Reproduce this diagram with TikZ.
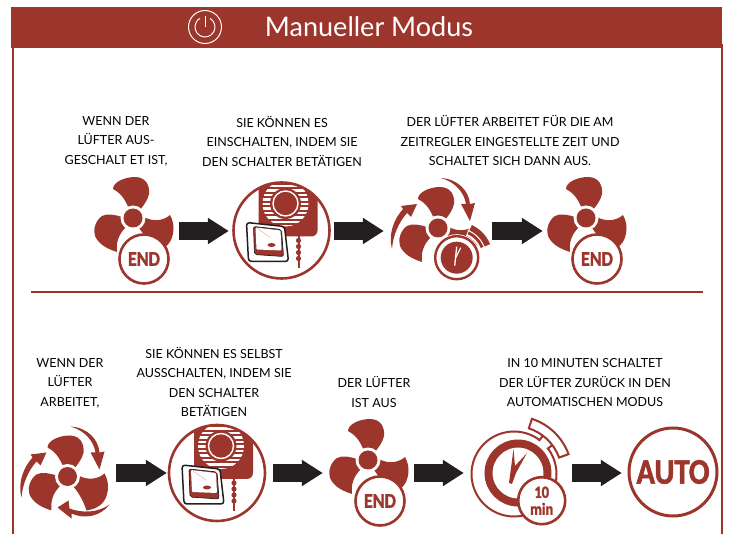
\documentclass[tikz,border=0pt]{standalone}
\usepackage{fontspec}
\setmainfont{Lato}
\newfontfamily\badgefont{Carlito}[FakeStretch=0.85, BoldFeatures={FakeStretch=0.85, FakeBold=1.6}]
\usetikzlibrary{arrows.meta}
\definecolor{rust}{HTML}{9C352B}
\definecolor{flowblack}{HTML}{231F20}
\tikzset{
  slot/.style={inner sep=0pt, minimum height=1pt},
  flow/.style={draw=flowblack, line width=18pt, -{Triangle[length=21pt,width=25pt]}},
  caption/.style={align=center, text=black, font=\fontsize{12.5}{19.5}\selectfont},
  endbadge/.style={circle, draw=rust, line width=2.6pt, fill=white, text=rust, inner sep=0pt,
    minimum size=49pt, font=\badgefont\bfseries\fontsize{21}{21}\selectfont},
  fan/.pic={
    \fill[rust] (-4,-9) .. controls (-8,-20) and (-14,-26) .. (-20,-29) .. controls (-20,-36) and (-8,-41) .. (2,-41) .. controls (13,-41) and (17,-32) .. (16,-24) .. controls (15,-18) and (10,-12) .. (7,-8) -- cycle;
    \fill[rust] (-11,-1) .. controls (-17,-3) and (-26,-5) .. (-31,-2) .. controls (-38,3) and (-40,12) .. (-38,18) .. controls (-34,27) and (-25,31) .. (-16,34) .. controls (-17,25) and (-15,17) .. (-7,9) -- cycle;
    \fill[rust] (11,-1) .. controls (20,4) and (30,3) .. (37,-3) .. controls (42,6) and (41,15) .. (38,22) .. controls (34,30) and (26,33) .. (19,34) .. controls (16,25) and (12,17) .. (5,9) -- cycle;
    \fill[white] (0,0) circle[radius=12.5];
    \fill[rust] (0,0) circle[radius=9.5];
  },
  turnright/.pic={
    \fill[rust] (3,-50) .. controls (20,-49) and (31,-37) .. (32,-24) -- (37,-25) -- (32,-7) -- (23,-24) -- (28,-24) .. controls (26,-36) and (17,-46) .. cycle;
  },
  turnleft/.pic={
    \fill[rust] (-46,21) .. controls (-50,6) and (-44,-9) .. (-35,-19) -- (-37,-22) -- (-21,-24) -- (-27,-11) -- (-31,-15) .. controls (-39,-6) and (-45,7) .. cycle;
  },
  turnbottom/.pic={
    \fill[rust] (42,28) .. controls (33,40) and (17,43) .. (4,37) -- (4,42) -- (-10,31) -- (1,24) -- (2,32) .. controls (15,37) and (31,36) .. cycle;
  },
  switchbox/.pic={
    \fill[white] (0,0) circle[radius=48];
    \begin{scope}
      \clip (0,0) circle[radius=47];
      \fill[rust, rounded corners=6pt] (-23,-60) rectangle (36,6);
      \begin{scope}
        \clip (4,-27) circle[radius=23];
        \foreach \s in {-49,-44.5,...,-3} {\draw[white, line width=2.5pt] (-21,\s) -- (29,\s);}
      \end{scope}
      \fill[rust] (4,-27) circle[radius=15.5];
      \draw[white, line width=1.4pt] (4,-27) circle[radius=12.5];
    \end{scope}
    \draw[rust, line width=2.6pt] (0,0) circle[radius=48];
    \draw[rust, line width=2pt] (17,5) -- (17,38);
    \foreach \s in {10,16,22,28} {\fill[rust] (17,\s) circle[radius=2.6];}
    \filldraw[draw=flowblack, fill=white, line width=1.5pt, rounded corners=3pt] (-35,-8) -- (3,-4) -- (7,31) -- (-33,31) -- cycle;
    \filldraw[draw=flowblack, fill=rust, line width=.7pt, rounded corners=2pt] (-28,-4) -- (0,-1) -- (2,26) -- (-27,24) -- cycle;
    \fill[white, rounded corners=1pt] (-26,-3) -- (-1,0) -- (0,20) -- (-25,19) -- cycle;
    \draw[rust!50, line width=.3pt] (-24,-2) -- (-11,7);
    \fill[rust] (-10,14.5) ellipse[x radius=4, y radius=2];
  },
  tinyclock/.pic={
    \fill[white] (0,0) circle[radius=23.5];
    \fill[white] (-67:24) arc[start angle=-67, end angle=-20, radius=24] -- (-20:39) arc[start angle=-20, end angle=-67, radius=39] -- cycle;
    \draw[rust, line width=2.4pt] (0,0) circle[radius=21.5];
    \fill[rust] (0,0) circle[radius=16];
    \fill[rust] (-65:26) arc[start angle=-65, end angle=-22, radius=26] -- (-22:36) arc[start angle=-22, end angle=-65, radius=36] -- cycle;
    \draw[white, line width=1pt] (-68:29.5) arc[start angle=-68, end angle=-18, radius=29.5];
    \draw[white, line width=1.3pt] (-2,8) -- (0,-11);
    \draw[white, line width=1.1pt] (-1,0) -- (4,-10);
  },
  bigclock/.pic={
    \draw[rust, line width=2pt] (0,0) circle[radius=42.5];
    \draw[rust, line width=8pt] (4,-1) circle[radius=29.5];
    \filldraw[draw=rust, fill=white, line width=2pt] (-72:48) arc[start angle=-72, end angle=-20, radius=48] -- (-20:58) arc[start angle=-20, end angle=-72, radius=58] -- cycle;
    \draw[white, line width=3pt] (-52:42.5) arc[start angle=-52, end angle=-38, radius=42.5];
    \draw[rust, line width=2pt] (-53:41.5) -- (-53:48) (-37:41.5) -- (-37:48);
    \fill[rust] (-5,9) -- (-.5,-25) -- (1,-8) -- (13,-21) -- (2,-1) -- (-2,10) -- cycle;
  }
}
\begin{document}
\begin{tikzpicture}[x=1pt,y=-1pt]
\useasboundingbox (0,0) rectangle (729,534);
\fill[rust] (11,7) rectangle (722,48);
\draw[rust, line width=2pt] (12.5,46) -- (12.5,534);
\draw[rust, line width=2pt] (722,44) -- (722,534);
\draw[rust, line width=2.4pt] (31,292) -- (703,292);
\node[circle, draw=white, line width=1pt, inner sep=0pt, minimum size=33pt] (power) at (205,27) {};
\draw[white, line width=1pt] (205,27) ++(-60:10) arc[start angle=-60, end angle=240, radius=10];
\draw[white, line width=1pt] (205,27) -- (205,16);
\node[text=white, font=\fontsize{27}{27}\selectfont] (title) at (369,27) {Manueller Modus};

\node[caption] (textA) at (116,141) {WENN DER\\LÜFTER AUS-\\GESCHALT ET IST,};
\node[caption] (textB) at (282,141) {SIE KÖNNEN ES\\EINSCHALTEN, INDEM SIE\\DEN SCHALTER BETÄTIGEN};
\node[caption] (textC) at (510,141) {DER LÜFTER ARBEITET FÜR DIE AM\\ZEITREGLER EINGESTELLTE ZEIT UND\\SCHALTET SICH DANN AUS.};
\node[caption] (textD) at (70,383) {WENN DER\\LÜFTER\\ARBEITET,};
\node[caption] (textE) at (214,382) {SIE KÖNNEN ES SELBST\\AUSSCHALTEN, INDEM SIE\\DEN SCHALTER\\BETÄTIGEN};
\node[caption] (textF) at (374,392) {DER LÜFTER\\IST AUS};
\node[caption] (textG) at (585,383) {IN 10 MINUTEN SCHALTET\\DER LÜFTER ZURÜCK IN DEN\\AUTOMATISCHEN MODUS};

\node[slot, minimum width=94pt] (fanA) at (132,231) {};
\node[slot, minimum width=105pt] (switchA) at (281.5,231) {};
\node[slot, minimum width=108pt] (clockfan) at (438,231) {};
\node[slot, minimum width=104pt] (fanB) at (595,231) {};
\node[slot, minimum width=102pt] (swirlfan) at (65,473) {};
\node[slot, minimum width=106pt] (switchB) at (220,473) {};
\node[slot, minimum width=91pt] (fanC) at (368.5,473) {};
\node[slot, minimum width=108pt] (clock) at (518,473) {};
\node[slot, minimum width=102pt] (autoslot) at (673,473) {};

\pic at (133,218) {fan};
\node[endbadge] (endA) at (144,259) {END};
\pic at (281.5,230.5) {switchbox};
\pic at (438,228) {fan};
\pic at (438,228) {turnright};
\pic at (438,228) {turnleft};
\pic at (456.7,257.7) {tinyclock};
\pic at (586,218) {fan};
\node[endbadge] (endB) at (597,259) {END};
\pic at (67.5,476.5) {fan};
\pic at (67.5,476.5) {turnright};
\pic at (67.5,476.5) {turnleft};
\pic at (67.5,476.5) {turnbottom};
\pic at (217,473) {switchbox};
\pic at (368,460) {fan};
\node[endbadge] (endC) at (380,501) {END};
\pic at (514,474) {bigclock};
\node[circle, draw=rust, line width=2.6pt, fill=white, text=rust, inner sep=0pt, minimum size=47pt, align=center, font=\badgefont\bfseries\fontsize{17}{17}\selectfont] (ten) at (541.7,500.7) {10\\min};
\node[circle, draw=rust, line width=3pt, fill=white, text=rust, inner sep=0pt, minimum size=88pt, font=\badgefont\bfseries\fontsize{36}{36}\selectfont] (auto) at (673,472) {AUTO};

\draw[flow] (fanA.east) -- (switchA.west);
\draw[flow] (switchA.east) -- (clockfan.west);
\draw[flow] (clockfan.east) -- (fanB.west);
\draw[flow] (swirlfan.east) -- (switchB.west);
\draw[flow] (switchB.east) -- (fanC.west);
\draw[flow] (fanC.east) -- (clock.west);
\draw[flow] (clock.east) -- (autoslot.west);
\end{tikzpicture}
\end{document}
